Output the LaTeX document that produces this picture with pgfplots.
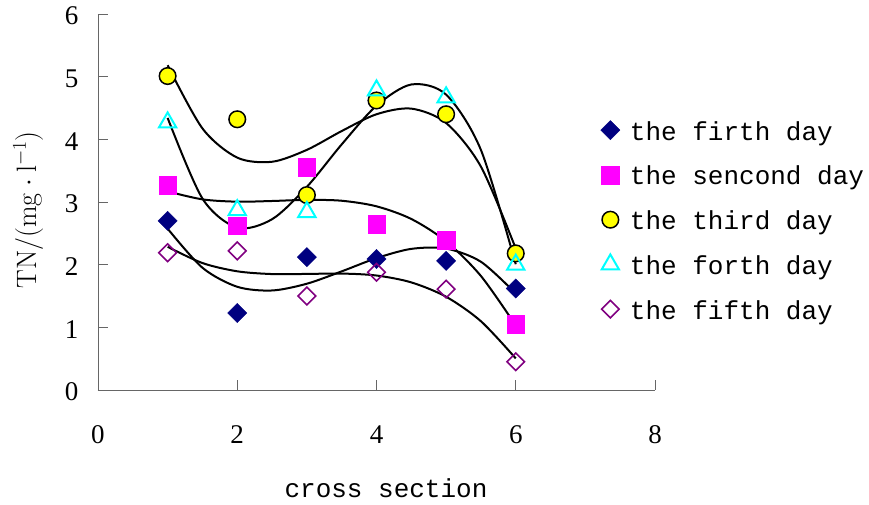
\RequirePackage{fix-cm}
\documentclass[border=0pt]{standalone}
\usepackage{pgfplots}
\pgfplotsset{compat=1.18}
\usepackage{fontspec}
\newfontfamily\monofont{Liberation Mono}
\newfontfamily\tickfont{Liberation Serif}
\definecolor{navyc}{RGB}{0,0,128}
\definecolor{magc}{RGB}{255,0,255}
\definecolor{yelc}{RGB}{255,255,0}
\definecolor{cyanc}{RGB}{0,255,255}
\definecolor{purc}{RGB}{128,0,128}
\begin{document}
\begin{tikzpicture}
\begin{axis}[
  scale only axis, width=557pt, height=376pt,
  xmin=0, xmax=8, ymin=0, ymax=6,
  axis x line=bottom, axis y line=left,
  axis line style={-, draw=black!60, line width=0.9pt},
  xtick={0,2,4,6,8}, ytick={0,1,2,3,4,5,6},
  tick align=inside, major tick length=10pt,
  tick style={draw=black!60, line width=0.9pt},
  /pgf/number format/assume math mode=true,
  ticklabel style={font=\tickfont\fontsize{27}{32}\selectfont},
  yticklabel style={anchor=east, xshift=-16pt, yshift=-2pt},
  xticklabel style={anchor=north, yshift=-32pt},
  xlabel={cross section},
  xlabel style={font=\monofont\fontsize{26}{30}\selectfont, at={(axis description cs:0.517,-0.2606)}, anchor=center},
  ylabel={$\mathrm{TN/(mg\cdot l^{-1})}$},
  ylabel style={font=\fontsize{28}{32}\selectfont, at={(axis description cs:-0.1257,0.479)}, anchor=center},
  clip=false,
  legend style={at={(0.9022,0.751)}, anchor=north west, draw=none, fill=none, inner sep=0pt,
    font=\monofont\fontsize{26}{30}\selectfont,
    nodes={inner ysep=0pt, text height=32.4pt, text depth=12.35pt}, row sep=0pt,
    /tikz/every odd column/.append style={column sep=8pt}},
  legend cell align=left,
]
% data points
\addplot[only marks, mark=square*, mark size=6.8pt, mark options={rotate=45, fill=navyc, draw=navyc}]
  coordinates {(1,2.70) (2,1.23) (3,2.12) (4,2.09) (5,2.06) (6,1.62)};
\addlegendentry{the firth day}
\addplot[only marks, mark=square*, mark size=8.8pt, mark options={fill=magc, draw=magc}]
  coordinates {(1,3.27) (2,2.62) (3,3.56) (4,2.65) (5,2.39) (6,1.05)};
\addlegendentry{the sencond day}
\addplot[only marks, mark=*, mark size=8.3pt, mark options={fill=yelc, draw=black, line width=1.5pt}]
  coordinates {(1,5.01) (2,4.32) (3,3.11) (4,4.62) (5,4.40) (6,2.18)};
\addlegendentry{the third day}
\addplot[only marks, mark=triangle, mark size=10pt, mark options={draw=cyanc, line width=2pt}]
  coordinates {(1,4.27) (2,2.87) (3,2.84) (4,4.78) (5,4.67) (6,2.00)};
\addlegendentry{the forth day}
\addplot[only marks, mark=square, mark size=6.2pt, mark options={rotate=45, draw=purc, line width=1.6pt}]
  coordinates {(1,2.19) (2,2.22) (3,1.50) (4,1.88) (5,1.61) (6,0.45)};
\addlegendentry{the fifth day}
% trend lines (cubic fits, sampled)
\addplot[forget plot, black, line width=2pt, smooth, no marks] coordinates {
 (1,2.575) (1.5,1.951) (2,1.647) (2.5,1.588) (3,1.696) (3.5,1.893) (4,2.104) (4.5,2.252) (5,2.257) (5.5,2.046) (6,1.54)};
\addplot[forget plot, black, line width=2pt, smooth, no marks] coordinates {
 (1,3.169) (1.5,3.042) (2,3.005) (2.5,3.016) (3,3.034) (3.5,3.020) (4,2.931) (4.5,2.729) (5,2.372) (5.5,1.819) (6,1.030)};
\addplot[forget plot, black, line width=2pt, smooth, no marks] coordinates {
 (1,5.183) (1.5,4.174) (2,3.708) (2.5,3.642) (3,3.832) (3.5,4.132) (4,4.400) (4.5,4.490) (5,4.260) (5.5,3.564) (6,2.258)};
\addplot[forget plot, black, line width=2pt, smooth, no marks] coordinates {
 (1,4.342) (1.5,3.055) (2,2.590) (2.5,2.725) (3,3.242) (3.5,3.919) (4,4.537) (4.5,4.875) (5,4.713) (5.5,3.830) (6,2.007)};
\addplot[forget plot, black, line width=2pt, smooth, no marks] coordinates {
 (1,2.285) (1.5,2.026) (2,1.894) (2.5,1.850) (3,1.852) (3.5,1.858) (4,1.827) (4.5,1.717) (5,1.488) (5.5,1.097) (6,0.504)};
\coordinate (O) at (rel axis cs:0,0);
\end{axis}
\pgfresetboundingbox
\path (O) ++(-98pt,-115pt) rectangle ++(869pt,505pt);
\end{tikzpicture}
\end{document}
